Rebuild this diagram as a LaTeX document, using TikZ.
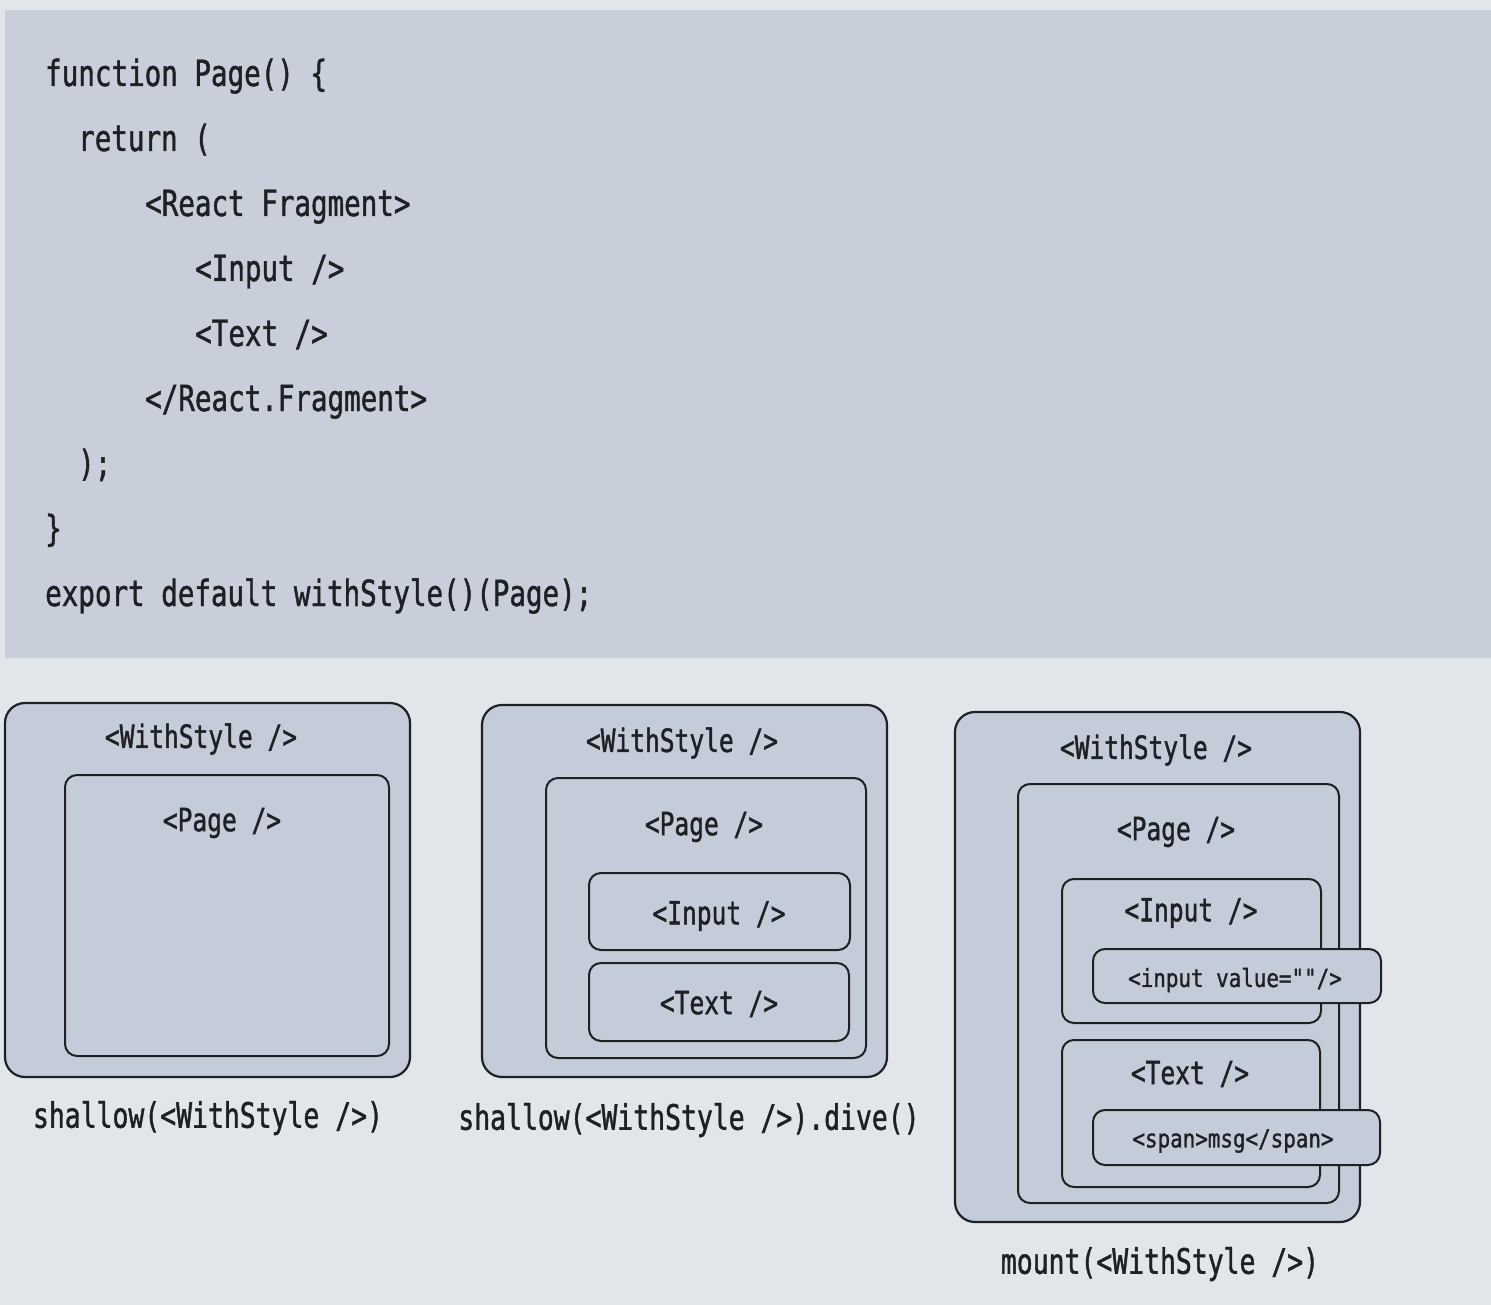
\documentclass[tikz,border=0pt]{standalone}
\usepackage{fontspec}
\newfontfamily\codefont[FakeStretch=0.765,FakeBold=1.2]{DejaVu Sans Mono}
\newfontfamily\labelfont[FakeStretch=0.767,FakeBold=1.2]{DejaVu Sans Mono}
\newfontfamily\capfont[FakeStretch=0.755,FakeBold=1.2]{DejaVu Sans Mono}
\newfontfamily\smallcodefont[FakeStretch=0.835,FakeBold=1.2]{DejaVu Sans Mono}
\definecolor{pagebg}{HTML}{E2E5EA}
\definecolor{codebg}{HTML}{C8CEDA}
\definecolor{boxfill}{HTML}{C5CCD9}
\definecolor{ink}{HTML}{1E2024}
\begin{document}
\begin{tikzpicture}[x=1pt,y=-1pt,
  codeline/.style={anchor=base west, inner sep=0pt, text=ink, font=\codefont\fontsize{36}{42}\selectfont},
  boxlabel/.style={inner sep=0pt, text=ink, font=\labelfont\fontsize{32}{38}\selectfont},
  caption/.style={inner sep=0pt, text=ink, font=\capfont\fontsize{35}{42}\selectfont},
  smalllabel/.style={inner sep=0pt, text=ink, font=\smallcodefont\fontsize{25}{30}\selectfont},
  outerbox/.style={draw=ink, line width=2.2pt, fill=boxfill, rounded corners=20pt, inner sep=0pt},
  innerbox/.style={draw=ink, line width=2pt, fill=boxfill, rounded corners=12pt, inner sep=0pt},
]
\useasboundingbox (0,0) rectangle (1491,1305);
\fill[pagebg] (0,0) rectangle (1491,1305);
\fill[codebg] (5,10) rectangle (1491,658);

% code
\node[codeline] (c1) at (45,86) {function Page() \{};
\node[codeline] (c2) at (78,151) {return (};
\node[codeline] (c3) at (145,216) {<React Fragment>};
\node[codeline] (c4) at (195,281) {<Input />};
\node[codeline] (c5) at (195,346) {<Text />};
\node[codeline] (c6) at (145,411) {</React.Fragment>};
\node[codeline] (c7) at (78,476) {);};
\node[codeline] (c8) at (45,541) {\}};
\node[codeline] (c9) at (45,606) {export default withStyle()(Page);};

% panel 1
\node[outerbox, minimum width=405pt, minimum height=374pt] (o1) at (207.5,890) {};
\node[innerbox, minimum width=324pt, minimum height=281pt] (p1) at (227,915.5) {};
\node[boxlabel] (ws1) at (201,739) {<WithStyle />};
\node[boxlabel] (pg1) at (222,823) {<Page />};
\node[caption] (cap1) at (208,1118) {shallow(<WithStyle />)};

% panel 2
\node[outerbox, minimum width=405pt, minimum height=372pt] (o2) at (684.5,891) {};
\node[innerbox, minimum width=320pt, minimum height=280pt] (p2) at (706,918) {};
\node[innerbox, minimum width=261pt, minimum height=77pt] (in2) at (719.5,911.5) {};
\node[innerbox, minimum width=260pt, minimum height=78pt] (tx2) at (719,1002) {};
\node[boxlabel] (ws2) at (682,743) {<WithStyle />};
\node[boxlabel] (pg2) at (704,827) {<Page />};
\node[boxlabel] (il2) at (719,916) {<Input />};
\node[boxlabel] (tl2) at (719,1004) {<Text />};
\node[caption] (cap2) at (689,1120) {shallow(<WithStyle />).dive()};

% panel 3
\node[outerbox, minimum width=405pt, minimum height=510pt] (o3) at (1157.5,967) {};
\node[innerbox, minimum width=321pt, minimum height=419pt] (p3) at (1178.5,993.5) {};
\node[innerbox, minimum width=259pt, minimum height=144pt] (in3) at (1191.5,951) {};
\node[innerbox, minimum width=258pt, minimum height=147pt] (tx3) at (1191,1113.5) {};
\node[innerbox, minimum width=288pt, minimum height=54pt] (iv3) at (1237,976) {};
\node[innerbox, minimum width=287pt, minimum height=55pt] (sp3) at (1236.5,1137.5) {};
\node[boxlabel] (ws3) at (1156,750) {<WithStyle />};
\node[boxlabel] (pg3) at (1176,832) {<Page />};
\node[boxlabel] (il3) at (1191,913) {<Input />};
\node[smalllabel] (ivl3) at (1235,980) {<input value=""/>};
\node[boxlabel] (tl3) at (1190,1074) {<Text />};
\node[smalllabel] (spl3) at (1233,1141) {<span>msg</span>};
\node[caption] (cap3) at (1160,1264) {mount(<WithStyle />)};
\end{tikzpicture}
\end{document}
